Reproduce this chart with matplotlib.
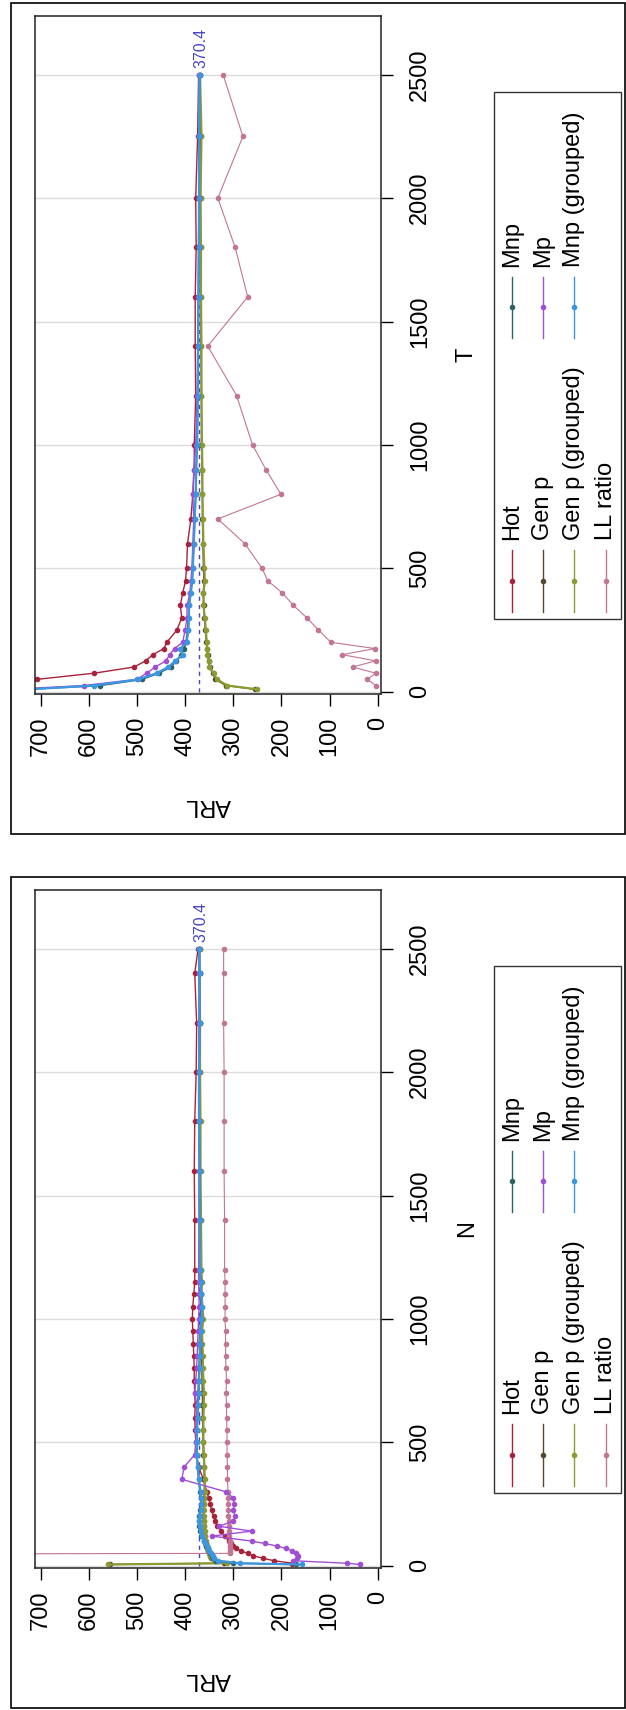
import numpy as np
import matplotlib.pyplot as plt
from matplotlib.patches import Rectangle

plt.rcParams['font.family'] = ['Liberation Sans', 'DejaVu Sans']

nan = np.nan

# ARL against T
T = [10, 25, 50, 75, 100, 125, 150, 175, 200, 250, 300, 350, 400, 450, 500,
     600, 700, 800, 900, 1000, 1200, 1400, 1600, 1800, 2000, 2250, 2500]
t_hot = [2000, 1200, 708, 589, 506, 482, 467, 444, 438, 417, 407, 410, 405, 399, 397,
         395, 388, 384, 381, 381, 378, 379, 379, 377, 378, 374, 372]
t_genp = [255, 316, 337, 343, 349, 351, 353, 355, 356, 358, 360, 361, 362, 361, 362,
          363, 364, 364, 365, 366, 366, 367, 367, 368, 368, 368, 369]
t_genp_g = [251, 312, 334, 341, 350, 350, 354, 354, 355, 357, 359, 362, 362, 359, 360,
            362, 363, 364, 364, 365, 366, 366, 367, 367, 368, 366, 369]
t_ll = [nan, 4, 21.6, 4, 52, 4, 73.5, 5.6, 97, 123, 147.5, 175, 198, 228.5, 240,
        276, 332, 201, 232, 260, 293, 353, 270, 296, 332, 280, 321]
t_mnp = [730, 577, 490, 455, 430, 418, 408, 402, 398, 395, 393, 391, 389, 386, 384,
         382, 380, 378, 377, 376, 374, 373, 372, 372, 371, 371, 370]
t_mp = [760, 610, 500, 480, 462, 440, 432, 422, 405, 400, 396, 396, 390, 388, 386,
        384, 382, 384, 382, 378, 375, 374, 373, 372, 372, 371, 371]
t_mnp_g = [720, 589, 497, 459, 435, 420, 405, 410, 397, 393, 392, 392, 388, 385, 384,
           382, 380, 378, 377, 375, 373, 373, 372, 371, 371, 371, 370]

# ARL against N
N = [5, 10, 20, 30, 40, 50, 60, 70, 80, 90, 100, 120, 140, 160, 180, 200, 225, 250,
     275, 300, 350, 400, 450, 500, 550, 600, 650, 700, 750, 800, 850, 900, 950, 1000,
     1050, 1100, 1150, 1200, 1400, 1600, 1800, 2000, 2200, 2400, 2500]
n_hot = [178, 176, 215, 238, 258, 270, 284, 294, 300, 305, 309, 318, 325, 333, 337,
         341, 345, 348, 351, 355, 362, 372, 377, 378, 379, 380, 379, 380, 381, 381,
         382, 383, 384, 385, 384, 382, 380, 380, 380, 381, 380, 377, 376, 380, 373]
n_genp = [555, 320, 338, 346, 349, 351, 353, 355, 356, 357, 358, 359, 360, 361, 361,
          362, 362, 361, 361, 360, 360, 361, 362, 363, 363, 364, 364, 364, 365, 365,
          366, 366, 366, 367, 367, 367, 368, 368, 368, 369, 369, 369, 370, 370, 370]
n_genp_g = [560, 314, 333, 345, 348, 350, 352, 354, 355, 356, 357, 358, 359, 360, 360,
            361, 361, 360, 360, 359, 359, 360, 361, 362, 362, 362, 361, 361, 362, 363,
            363, 364, 365, 362, 364, 366, 365, 366, 367, 368, 368, 369, 369, 370, 370]
n_ll = [nan, nan, nan, nan, 3000, 307, 307, 306, 306, 307, 307, 308, 308, 309, 309,
        310, 310, 311, 311, 311, 312, 312, 313, 313, 313, 314, 314, 315, 314, 315,
        316, 316, 316, 317, 317, 317, 317, 318, 318, 319, 319, 319, 320, 320, 320]
n_mnp = [170, 300, 335, 342, 345, 348, 351, 353, 356, 359, 361, 366, 369, 371, 372,
         371, 369, 367, 368, 369, 372, 374, 375, 376, 376, 375, 374, 373, 372, 371,
         370, 370, 369, 368, 367, 366, 368, 369, 370, 370, 371, 371, 370, 370, 371]
n_mp = [37, 64, 175, 168, 165, 170, 178, 190, 210, 235, 262, 345, 262, 330, 300,
        296, 300, 298, 300, 316, 407, 402, 380, 378, 377, 376, 375, 380, 378, 376,
        375, 374, 373, 372, 371, 371, 372, 372, 371, 371, 372, 372, 371, 371, 371]
n_mnp_g = [158, 286, 331, 340, 343, 346, 350, 352, 355, 358, 360, 365, 368, 370, 372,
           370, 368, 366, 367, 368, 371, 374, 376, 376, 375, 374, 373, 372, 371, 370,
           369, 369, 368, 366, 365, 366, 368, 369, 370, 370, 371, 371, 370, 370, 371]

names = ['Hot', 'Gen p', 'Gen p (grouped)', 'LL ratio', 'Mnp', 'Mp', 'Mnp (grouped)']
colors = ['#A8223A', '#55482E', '#8C9A32', '#C27595', '#2B6467', '#A04ED6', '#3C97E0']
widths = [1.0, 1.0, 1.6, 0.8, 1.2, 1.0, 1.6]
target = 370.4
arl_ticks = [0, 100, 200, 300, 400, 500, 600, 700]
x_ticks = [0, 500, 1000, 1500, 2000, 2500]

W, H = 626, 1710
FS = 17


def rect(x0, y0, x1, y1):
    return [x0 / W, 1 - y1 / H, (x1 - x0) / W, (y1 - y0) / H]


fig = plt.figure(figsize=(W / 100, H / 100), dpi=100)
ov = fig.add_axes([0, 0, 1, 1])
ov.set_xlim(0, W)
ov.set_ylim(H, 0)
ov.axis('off')

panels = [('T', T, [t_hot, t_genp, t_genp_g, t_ll, t_mnp, t_mp, t_mnp_g], 0),
          ('N', N, [n_hot, n_genp, n_genp_g, n_ll, n_mnp, n_mp, n_mnp_g], 874)]

for xlab, xs, series, dy in panels:
    # frame around each panel
    ov.add_patch(Rectangle((11, 3 + dy), 613.5, 831, fill=False, ec='black', lw=1.2))

    ax = fig.add_axes(rect(35, 16 + dy, 381, 694 + dy))
    ax.set_zorder(2)
    for s, c, w in zip(series, colors, widths):
        ax.plot(s, xs, color=c, lw=w, marker='o', ms=3, mec=c, mfc=c)
    ax.vlines(target, 0, xs[-1], colors='#4646C0', linestyles=(0, (3, 3)), lw=1.0, zorder=1)
    ax.text(target - 3, 2527, '%.1f' % target, rotation=90, ha='center', va='bottom',
            color='#4646C0', fontsize=11.5)

    ax.set_xlim(711.8, -6.9)
    ax.set_ylim(-9.3, 2738)
    ax.set_xticks(arl_ticks)
    ax.set_yticks(x_ticks)
    ax.yaxis.tick_right()
    ax.grid(axis='y', color='#dcdcdc', lw=1, zorder=0)
    ax.set_axisbelow(True)
    for sp in ax.spines.values():
        sp.set_linewidth(1.1)
        sp.set_color('#222222')
    ax.tick_params(axis='x', direction='out', length=8.6, width=1, pad=7.9,
                   labelsize=FS, labelrotation=90)
    ax.tick_params(axis='y', direction='out', length=8.6, width=1, pad=19.5,
                   labelsize=FS, labelrotation=90)
    for lbl in ax.get_yticklabels():
        lbl.set_ha('center')
        lbl.set_va('center')

    ov.text(466.7, 355 + dy, xlab, rotation=90, ha='center', va='center', fontsize=FS)
    ov.text(208, 805 + dy, 'ARL', rotation=180, ha='center', va='center', fontsize=FS)

    # legend, two columns of entries
    ov.add_patch(Rectangle((494, 92 + dy), 127, 527, fill=False, ec='#333333', lw=1.0))
    col_x = [511.7, 543.0, 574.3, 605.5]
    for i, (nm, c) in enumerate(zip(names, colors)):
        if i < 4:
            x, y0, y1, yt = col_x[i], 550, 611.7, 540
        else:
            x, y0, y1, yt = col_x[i - 4], 276.7, 338, 266.7
        ov.plot([x, x], [y0 + dy, y1 + dy], color=c, lw=1.0)
        ov.plot([x], [(y0 + y1) / 2 + dy], marker='o', ms=3, color=c)
        ov.text(x, yt + dy, nm, rotation=90, ha='center', va='bottom', fontsize=FS)

fig.savefig('out.png', dpi=100)
